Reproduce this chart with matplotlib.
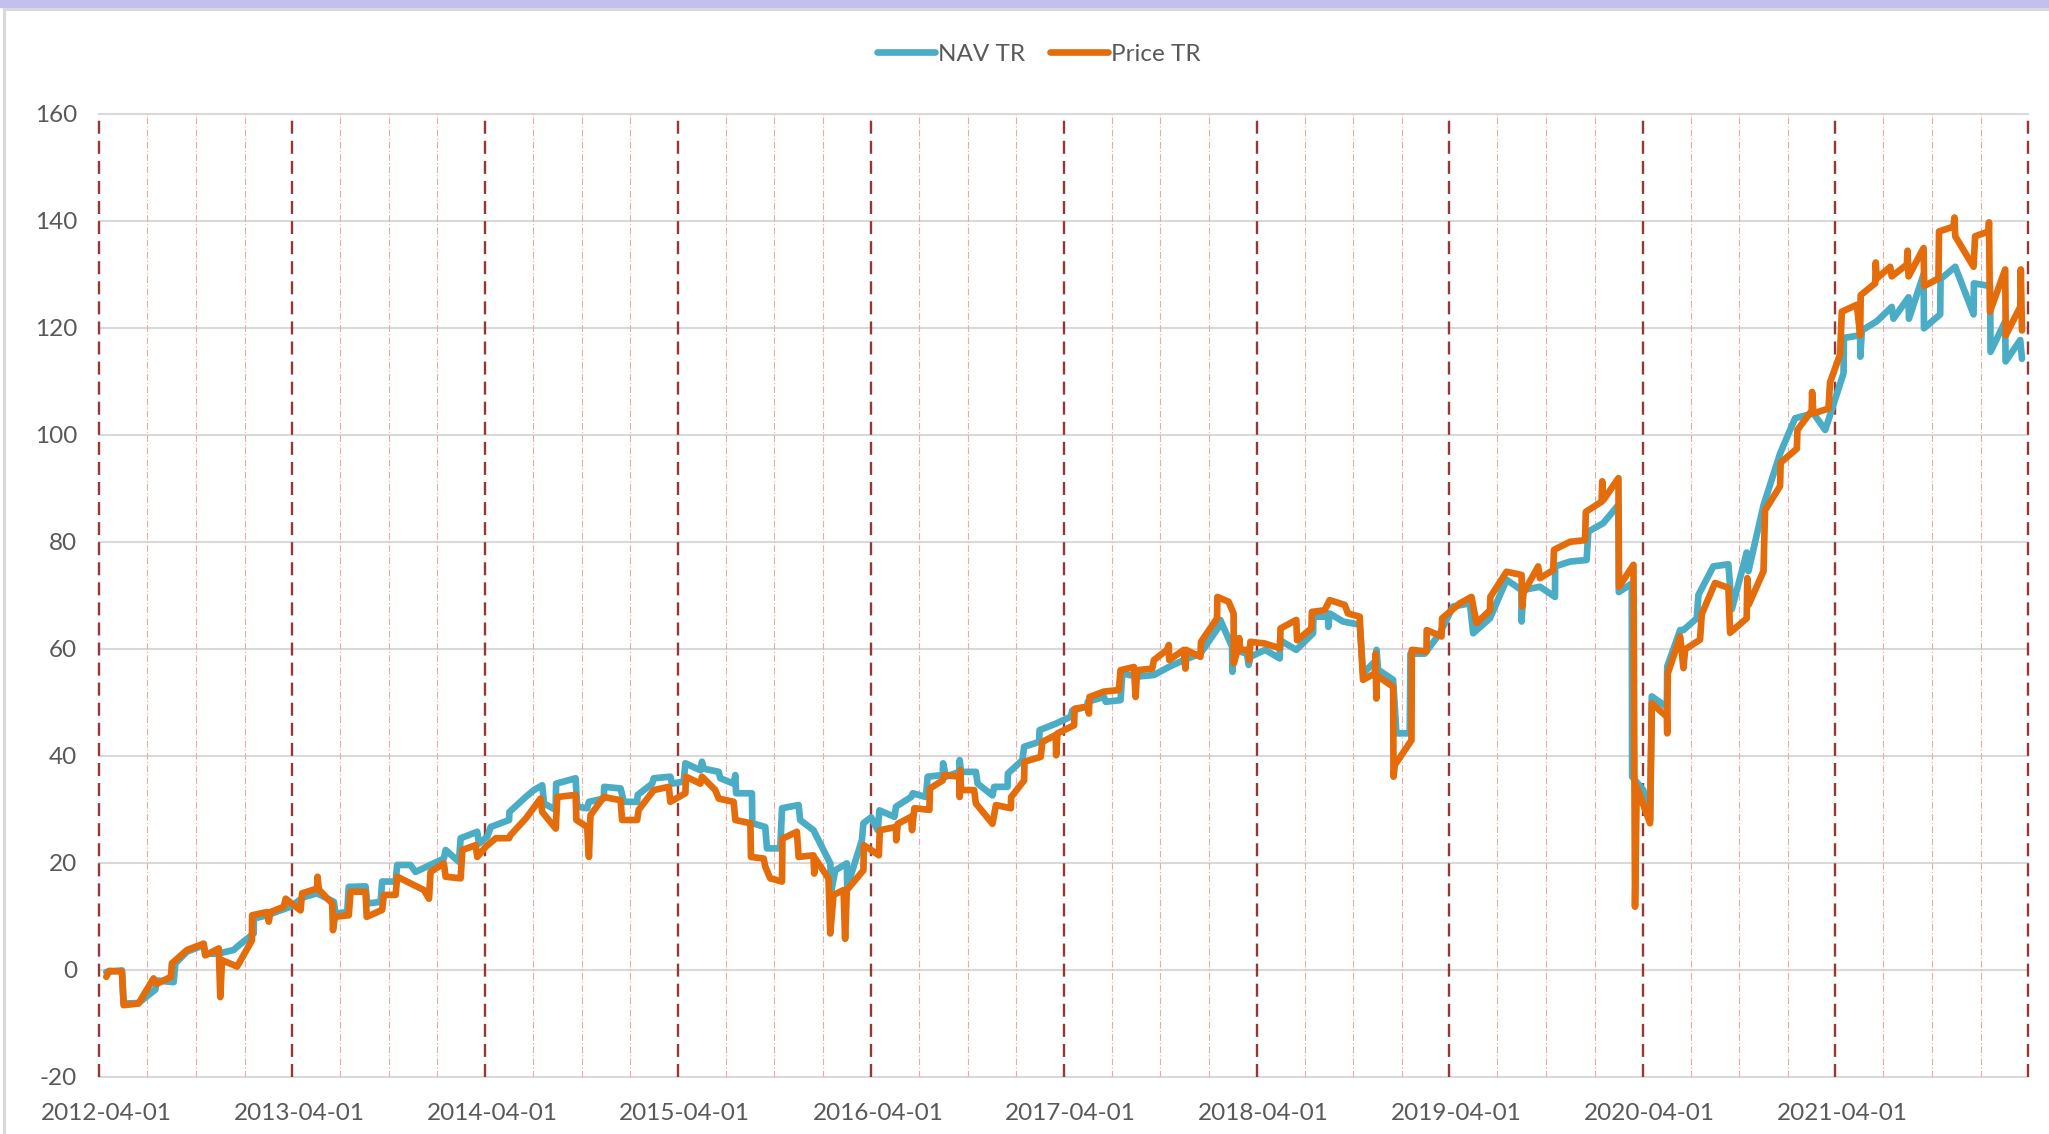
import matplotlib
matplotlib.use('Agg')
import matplotlib.pyplot as plt
import matplotlib.transforms as mtransforms
import numpy as np
import pandas as pd
from matplotlib.patches import Rectangle
from matplotlib.lines import Line2D

# time axis is kept as decimal years, values in %
nav_t = [2012.285, 2012.366, 2012.375, 2012.452, 2012.539, 2012.548, 2012.634, 2012.643, 2012.703, 2012.79,
         2012.798, 2012.859, 2012.945, 2012.963, 2013.049, 2013.05, 2013.119, 2013.24, 2013.309, 2013.378,
         2013.465, 2013.473, 2013.534, 2013.542, 2013.629, 2013.638, 2013.707, 2013.715, 2013.785, 2013.793,
         2013.862, 2013.888, 2014.035, 2014.044, 2014.113, 2014.122, 2014.208, 2014.217, 2014.26, 2014.278,
         2014.373, 2014.375, 2014.459, 2014.502, 2014.545, 2014.554, 2014.614, 2014.617, 2014.718, 2014.726,
         2014.778, 2014.787, 2014.864, 2014.866, 2014.951, 2014.968, 2015.037, 2015.04, 2015.115, 2015.123,
         2015.209, 2015.218, 2015.278, 2015.287, 2015.365, 2015.373, 2015.382, 2015.46, 2015.468, 2015.537,
         2015.546, 2015.55, 2015.632, 2015.634, 2015.701, 2015.71, 2015.779, 2015.788, 2015.874, 2015.882,
         2015.951, 2015.986, 2016.038, 2016.045, 2016.064, 2016.124, 2016.126, 2016.202, 2016.21, 2016.25,
         2016.284, 2016.293, 2016.371, 2016.379, 2016.457, 2016.466, 2016.534, 2016.543, 2016.621, 2016.623,
         2016.638, 2016.707, 2016.709, 2016.716, 2016.793, 2016.802, 2016.879, 2016.888, 2016.957, 2016.959,
         2017.034, 2017.043, 2017.121, 2017.123, 2017.207, 2017.284, 2017.293, 2017.371, 2017.373, 2017.457,
         2017.466, 2017.543, 2017.552, 2017.629, 2017.716, 2017.793, 2017.871, 2017.957, 2018.052, 2018.06,
         2018.121, 2018.123, 2018.129, 2018.198, 2018.207, 2018.216, 2018.293, 2018.368, 2018.37, 2018.454,
         2018.541, 2018.543, 2018.619, 2018.62, 2018.627, 2018.696, 2018.783, 2018.80, 2018.869, 2018.87,
         2018.878, 2018.956, 2018.973, 2019.042, 2019.046, 2019.12, 2019.198, 2019.267, 2019.354, 2019.371,
         2019.458, 2019.544, 2019.621, 2019.622, 2019.631, 2019.717, 2019.795, 2019.796, 2019.873, 2019.959,
         2019.968, 2020.046, 2020.124, 2020.126, 2020.193, 2020.195, 2020.253, 2020.288, 2020.297, 2020.375,
         2020.377, 2020.444, 2020.461, 2020.53, 2020.539, 2020.616, 2020.694, 2020.712, 2020.789, 2020.798,
         2020.876, 2020.962, 2021.04, 2021.135, 2021.196, 2021.291, 2021.293, 2021.377, 2021.378, 2021.386,
         2021.463, 2021.541, 2021.55, 2021.628, 2021.63, 2021.706, 2021.708, 2021.792, 2021.794, 2021.87,
         2021.965, 2021.967, 2022.051, 2022.053, 2022.129, 2022.131, 2022.207, 2022.216]
nav_v = [-0.4, -0.1, -6.3, -6.2, -3.7, -2.0, -2.3, 1.2, 3.4, 4.6,
         3.0, 3.0, 3.7, 4.3, 6.8, 9.6, 10.2, 11.8, 13.6, 14.3,
         12.7, 10.5, 10.8, 15.5, 15.6, 12.4, 12.7, 16.5, 16.5, 19.6,
         19.6, 18.3, 20.8, 22.4, 20.2, 24.6, 25.8, 23.6, 24.9, 26.7,
         28.0, 29.5, 32.3, 33.6, 34.5, 31.1, 29.9, 34.8, 35.8, 30.5,
         30.2, 31.4, 32.0, 34.2, 33.9, 31.4, 31.4, 32.7, 34.8, 35.8,
         36.1, 34.8, 35.2, 38.6, 37.3, 38.9, 37.6, 37.0, 35.8, 34.8,
         36.4, 33.0, 33.0, 27.4, 26.7, 22.7, 22.7, 30.2, 30.8, 28.0,
         26.1, 23.6, 19.9, 15.0, 18.6, 19.9, 15.5, 24.2, 27.4, 28.5,
         26.1, 29.8, 28.6, 30.5, 32.3, 33.0, 32.3, 36.1, 36.4, 38.6,
         36.1, 37.0, 39.2, 37.0, 37.0, 34.8, 32.6, 34.2, 34.2, 36.7,
         39.2, 41.7, 42.6, 44.8, 46.0, 47.3, 48.5, 49.2, 50.1, 51.0,
         50.1, 50.4, 55.4, 54.8, 55.1, 56.6, 57.9, 59.1, 64.1, 65.4,
         60.4, 55.7, 59.8, 59.1, 57.0, 58.5, 59.8, 58.2, 61.6, 59.8,
         62.9, 66.0, 66.0, 64.1, 66.6, 65.1, 64.5, 55.4, 57.9, 59.8,
         56.1, 54.2, 44.2, 44.2, 59.1, 59.1, 62.9, 67.9, 68.5, 62.9,
         65.7, 72.9, 71.0, 65.1, 71.0, 71.6, 69.7, 75.4, 76.3, 76.6,
         81.9, 83.5, 86.9, 70.6, 72.2, 36.1, 33.6, 28.0, 51.1, 49.1,
         56.7, 63.5, 63.5, 65.7, 70.1, 75.4, 75.8, 67.4, 78.0, 74.5,
         86.8, 96.5, 103.1, 104.0, 100.9, 111.5, 118.1, 118.6, 114.6, 119.5,
         121.2, 123.9, 121.7, 125.7, 121.7, 130.0, 119.9, 122.5, 129.1, 131.4,
         122.5, 128.3, 127.8, 115.5, 121.2, 113.7, 117.7, 114.2]

price_t = [2012.285, 2012.30, 2012.366, 2012.375, 2012.452, 2012.53, 2012.548, 2012.62, 2012.625, 2012.703,
           2012.79, 2012.798, 2012.868, 2012.876, 2012.885, 2012.945, 2012.963, 2013.04, 2013.041, 2013.119,
           2013.127, 2013.136, 2013.205, 2013.215, 2013.292, 2013.30, 2013.378, 2013.38, 2013.387, 2013.456,
           2013.46, 2013.47, 2013.542, 2013.551, 2013.629, 2013.635, 2013.715, 2013.724, 2013.785, 2013.793,
           2013.932, 2013.958, 2013.966, 2014.035, 2014.044, 2014.122, 2014.131, 2014.20, 2014.208, 2014.252,
           2014.304, 2014.373, 2014.381, 2014.46, 2014.536, 2014.545, 2014.615, 2014.623, 2014.718, 2014.722,
           2014.778, 2014.787, 2014.795, 2014.864, 2014.951, 2014.959, 2015.037, 2015.045, 2015.123, 2015.201,
           2015.209, 2015.287, 2015.29, 2015.365, 2015.373, 2015.442, 2015.46, 2015.537, 2015.546, 2015.624,
           2015.627, 2015.693, 2015.701, 2015.727, 2015.788, 2015.79, 2015.865, 2015.874, 2015.951, 2015.955,
           2015.96, 2016.029, 2016.038, 2016.055, 2016.107, 2016.115, 2016.124, 2016.21, 2016.212, 2016.25,
           2016.29, 2016.295, 2016.379, 2016.38, 2016.388, 2016.457, 2016.462, 2016.474, 2016.552, 2016.555,
           2016.621, 2016.629, 2016.707, 2016.709, 2016.712, 2016.716, 2016.784, 2016.793, 2016.879, 2016.897,
           2016.974, 2016.976, 2017.043, 2017.045, 2017.129, 2017.138, 2017.207, 2017.209, 2017.216, 2017.302,
           2017.305, 2017.371, 2017.379, 2017.382, 2017.457, 2017.534, 2017.543, 2017.612, 2017.621, 2017.629,
           2017.707, 2017.716, 2017.784, 2017.793, 2017.795, 2017.871, 2017.879, 2017.882, 2017.957, 2017.96,
           2018.043, 2018.045, 2018.103, 2018.129, 2018.13, 2018.155, 2018.158, 2018.164, 2018.207, 2018.21,
           2018.216, 2018.29, 2018.37, 2018.372, 2018.454, 2018.458, 2018.532, 2018.535, 2018.601, 2018.627,
           2018.705, 2018.722, 2018.783, 2018.785, 2018.80, 2018.861, 2018.865, 2018.869, 2018.872, 2018.956,
           2018.958, 2018.965, 2019.051, 2019.053, 2019.129, 2019.13, 2019.207, 2019.21, 2019.302, 2019.362,
           2019.388, 2019.458, 2019.46, 2019.544, 2019.622, 2019.625, 2019.631, 2019.708, 2019.717, 2019.786,
           2019.79, 2019.873, 2019.951, 2019.955, 2020.037, 2020.04, 2020.046, 2020.124, 2020.127, 2020.202,
           2020.21, 2020.219, 2020.288, 2020.297, 2020.375, 2020.377, 2020.38, 2020.444, 2020.461, 2020.47,
           2020.547, 2020.556, 2020.625, 2020.694, 2020.703, 2020.789, 2020.792, 2020.80, 2020.876, 2020.884,
           2020.962, 2020.965, 2021.049, 2021.052, 2021.126, 2021.128, 2021.135, 2021.213, 2021.221, 2021.273,
           2021.282, 2021.36, 2021.377, 2021.38, 2021.455, 2021.458, 2021.463, 2021.533, 2021.541, 2021.619,
           2021.623, 2021.628, 2021.706, 2021.709, 2021.783, 2021.786, 2021.861, 2021.866, 2021.87, 2021.965,
           2021.973, 2022.043, 2022.045, 2022.05, 2022.129, 2022.132, 2022.207, 2022.21, 2022.216]
price_v = [-1.3, -0.2, -0.3, -6.6, -6.3, -1.6, -2.6, -1.3, 1.2, 3.7,
           4.9, 2.7, 4.0, -5.1, 1.8, 0.9, 0.6, 5.5, 10.2, 10.8,
           9.0, 10.8, 11.8, 13.3, 11.1, 14.3, 15.2, 17.4, 15.0, 12.4,
           7.4, 9.9, 10.2, 14.6, 14.6, 9.9, 11.2, 14.0, 14.0, 17.4,
           14.9, 13.3, 18.3, 19.9, 17.4, 17.1, 22.4, 23.3, 21.1, 23.0,
           24.6, 24.6, 25.2, 28.3, 32.0, 29.5, 26.4, 32.3, 32.7, 28.0,
           26.7, 21.1, 28.9, 32.3, 31.7, 28.0, 28.0, 29.9, 33.6, 34.2,
           31.4, 33.0, 36.1, 34.8, 36.1, 33.6, 32.0, 31.4, 28.0, 27.4,
           21.1, 20.8, 19.3, 17.1, 16.5, 24.5, 25.8, 21.1, 21.4, 18.0,
           20.8, 17.1, 6.8, 14.0, 14.9, 5.8, 14.9, 18.6, 23.3, 22.4,
           21.4, 26.1, 26.7, 24.2, 27.3, 28.6, 26.1, 30.2, 29.9, 33.9,
           35.4, 36.4, 36.1, 32.3, 37.3, 33.6, 33.6, 31.1, 27.3, 30.8,
           30.2, 32.3, 35.4, 38.9, 39.8, 42.6, 43.9, 40.1, 44.2, 45.7,
           48.8, 49.2, 47.9, 51.0, 52.0, 52.3, 56.0, 56.6, 51.0, 56.0,
           56.3, 57.9, 59.8, 60.7, 57.9, 59.8, 56.3, 59.8, 58.5, 61.3,
           65.7, 69.7, 68.8, 66.6, 57.3, 60.4, 62.0, 59.8, 59.8, 57.9,
           61.3, 61.0, 60.1, 63.8, 65.4, 61.6, 63.8, 66.9, 67.2, 69.1,
           68.2, 66.6, 66.0, 64.1, 54.2, 55.4, 59.1, 50.7, 55.0, 52.9,
           36.1, 38.3, 42.9, 59.8, 59.5, 63.5, 62.3, 65.7, 68.5, 69.7,
           64.8, 67.2, 69.7, 74.4, 73.8, 67.9, 70.4, 75.4, 73.2, 74.7,
           78.5, 80.0, 80.3, 85.6, 87.5, 91.3, 87.8, 91.9, 71.6, 75.7,
           11.8, 34.2, 27.4, 49.8, 47.3, 44.2, 55.4, 62.3, 56.4, 59.9,
           61.7, 66.5, 72.3, 71.4, 63.0, 65.7, 73.2, 68.3, 74.5, 85.9,
           90.4, 94.8, 97.4, 100.9, 104.5, 108.0, 104.0, 104.9, 109.8, 115.0,
           123.0, 124.3, 118.6, 126.1, 128.3, 132.2, 129.2, 131.4, 129.6, 131.8,
           134.4, 129.6, 134.9, 127.8, 129.2, 138.0, 138.9, 140.6, 137.1, 131.4,
           137.1, 138.0, 139.7, 123.0, 130.9, 118.6, 123.9, 130.9, 119.5]

series_names = ['NAV TR', 'Price TR']
series_colors = ['#4bacc6', '#e46c0a']
y_ticks = [-20, 0, 20, 40, 60, 80, 100, 120, 140, 160]


def to_dates(t):
    t = np.asarray(t, dtype=float)
    return pd.Timestamp('2012-01-01') + pd.to_timedelta((t - 2012) * 365.25, unit='D')


plt.rcParams['font.family'] = ['Lato', 'DejaVu Sans']
plt.rcParams['axes.unicode_minus'] = False
text_color = '#595959'

fig = plt.figure(figsize=(20.49, 11.34), dpi=100)
ax = fig.add_axes([0.0485, 0.0504, 0.9413, 0.8493])

# screenshot frame bits: lavender strip on top, light gray chart border
fig.patches.append(Rectangle((0, 1 - 7 / 1134), 1, 7 / 1134, transform=fig.transFigure,
                             color='#c4c0ee', zorder=0))
fig.lines.append(Line2D([4 / 2049, 4 / 2049], [0, 1 - 9 / 1134], transform=fig.transFigure,
                        color='#d9d9d9', lw=2.2))
fig.lines.append(Line2D([4 / 2049, 1], [1 - 9 / 1134, 1 - 9 / 1134], transform=fig.transFigure,
                        color='#d9d9d9', lw=2.2))

for y in y_ticks:
    ax.axhline(y, color='#d9d9d9', lw=1.5, zorder=0, clip_on=False)

years = pd.date_range('2012-04-01', '2022-04-01', freq='12MS')
quarters = [d for d in pd.date_range('2012-04-01', '2022-04-01', freq='3MS') if d.month != 4]
for d in quarters:
    ax.axvline(d, color='#eaaaa8', lw=0.8, ls=(0, (6, 2, 1, 2)), zorder=1)
for d in years:
    ax.axvline(d, color='#953735', lw=1.7, ls=(0, (5.5, 3)), zorder=2, clip_on=False)

ax.plot(to_dates(nav_t), nav_v, color=series_colors[0], lw=4.8, label=series_names[0],
        solid_joinstyle='round', solid_capstyle='round', zorder=3)
ax.plot(to_dates(price_t), price_v, color=series_colors[1], lw=4.8, label=series_names[1],
        solid_joinstyle='round', solid_capstyle='round', zorder=4)

ax.set_xlim(pd.Timestamp('2012-04-01'), pd.Timestamp('2022-04-01'))
ax.set_ylim(-20, 160)
ax.set_yticks(y_ticks)
ax.set_xticks(years[:-1])
ax.set_xticklabels([d.strftime('%Y-%m-%d') for d in years[:-1]])
ax.tick_params(axis='both', length=0, labelsize=17.5, labelcolor=text_color)
ax.tick_params(axis='y', pad=16)
ax.tick_params(axis='x', pad=19)
shift = mtransforms.ScaledTranslation(7 / 100, 0, fig.dpi_scale_trans)
for lbl in ax.get_xticklabels():
    lbl.set_transform(lbl.get_transform() + shift)
for s in ax.spines.values():
    s.set_visible(False)

fig.legend(loc='center', bbox_to_anchor=(0.507, 0.952), ncol=2, frameon=False, fontsize=17.5,
           handlelength=2.4, handletextpad=0.12, columnspacing=1.0, labelcolor=text_color)

plt.savefig('out.png', dpi=100)
